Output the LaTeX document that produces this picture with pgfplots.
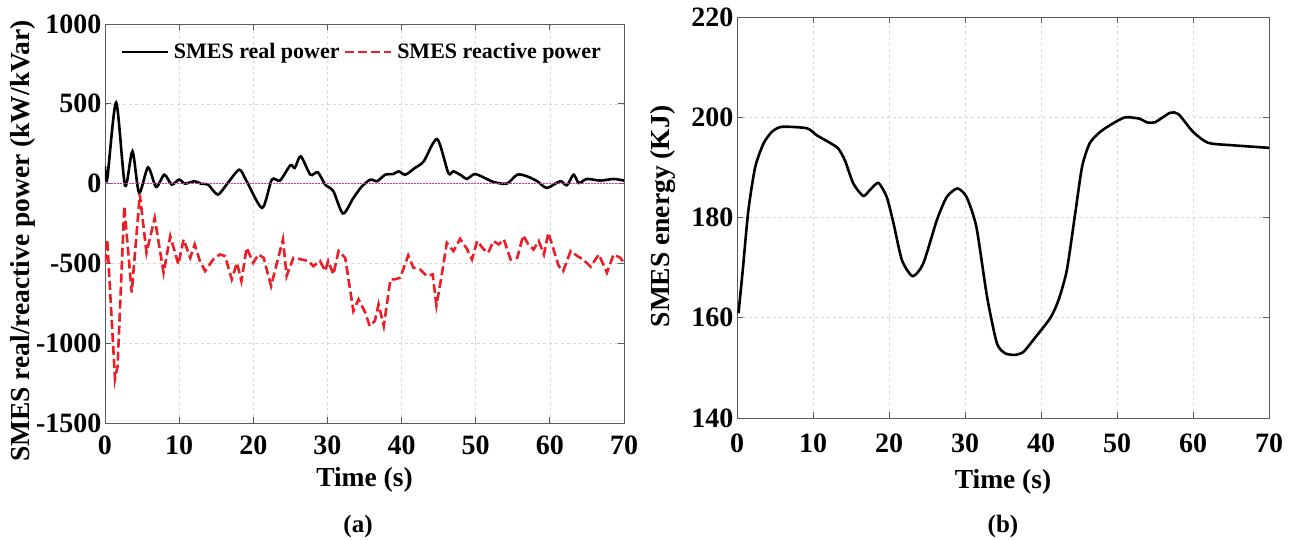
\documentclass[border=0pt]{standalone}
\usepackage{fontspec}
\setmainfont{Liberation Serif}
\usepackage{pgfplots}
\pgfplotsset{compat=1.18}
\definecolor{smesred}{RGB}{235,30,40}
\definecolor{refmag}{RGB}{200,50,200}
\definecolor{gridgray}{RGB}{215,215,215}
\definecolor{framegray}{RGB}{90,90,90}
\newcommand{\tf}{\fontsize{28}{28}\selectfont\bfseries}
\newcommand{\labfont}{\fontsize{27.5}{28}\selectfont\bfseries}
\begin{document}
\begin{tikzpicture}
\path[use as bounding box] (0pt,0pt) rectangle (1294pt,-539pt);
\pgfplotsset{
  myaxis/.style={
    scale only axis,
    xmin=0, xmax=70,
    xtick={0,10,...,70},
    xticklabels={0,10,20,30,40,50,60,70},
    grid=major,
    major grid style={dashed, gridgray, line width=0.6pt},
    axis line style={framegray, line width=0.9pt},
    tick style={framegray, line width=0.8pt},
    major tick length=6pt,
    tick label style={font=\tf},
    yticklabel shift=0pt,
    xlabel={Time (s)},
    clip=true,
  }
}
% ---------- (a) ----------
\begin{axis}[myaxis,
  at={(105pt,-423pt)}, anchor=south west,
  width=519pt, height=399pt,
  ymin=-1500, ymax=1000,
  ytick={-1500,-1000,-500,0,500,1000},
  yticklabels={-1500,-1000,-500,0,500,1000},
  xticklabel shift=9pt,
  ylabel={SMES real/reactive power (kW/kVar)},
  every axis y label/.style={at={(axis description cs:-0.158,0.456)}, rotate=90, anchor=center, font=\labfont},
  every axis x label/.style={at={(axis description cs:0.5,-0.143)}, anchor=center, font=\labfont},
  legend style={at={(axis description cs:0.029,0.93)}, anchor=west, draw=none, fill=none,
    font=\fontsize{22}{22}\selectfont\bfseries, legend columns=2,
    /tikz/every odd column/.append style={column sep=3pt},
    /tikz/every even column/.append style={column sep=2pt},
    legend cell align=left, inner sep=0pt},
  legend image code/.code={\draw[#1] (0pt,0pt) -- (46pt,0pt);},
]
\addplot[black, line width=2.6pt, smooth, tension=0.45] coordinates {
(0,108)(0.3,29)(1.5,508)(2.7,-12)(3.7,202)(4.6,-58)(5.8,102)(6.9,-21)(8.0,56)(9.0,-6)
(10,25)(10.8,0)(12.1,15)(13.0,-2)(13.9,-6)(15.2,-69)(16.4,-6)(18.1,87)(19.1,15)(21.2,-152)
(22.5,25)(23.6,19)(25.0,115)(25.6,98)(26.4,171)(27.7,56)(28.7,71)(29.7,-6)(30.8,-48)(32.1,-187)
(33.5,-90)(34.6,-20)(35.8,25)(36.7,15)(37.8,56)(38.9,60)(39.6,77)(40.5,56)(41.8,98)(43.0,140)
(44.8,279)(46.3,67)(47.0,77)(48.1,50)(48.8,29)(49.9,60)(51.5,29)(52.4,10)(54.2,0)(55.6,56)
(56.9,46)(58.3,15)(59.6,-27)(61.4,15)(62.3,-10)(63.2,56)(63.9,4)(65.0,29)(66.8,19)(68.6,29)(70,19)
};
\addlegendentry{SMES real power}
\addplot[smesred, line width=2.6pt, dash pattern=on 9pt off 4pt] coordinates {
(0,-496)(0.3,-350)(1.35,-1225)(1.7,-1142)(2.6,-142)(3.6,-683)(4.7,-69)(5.6,-433)(6.7,-215)(7.9,-558)
(8.8,-329)(9.9,-506)(10.6,-350)(11.5,-465)(12.1,-381)(12.8,-485)(13.5,-548)(14.6,-475)(15.5,-444)(16.2,-454)
(17.1,-600)(17.8,-496)(18.4,-610)(19.1,-402)(20.0,-496)(20.7,-444)(21.4,-465)(22.4,-642)(23.2,-496)(24.0,-350)
(24.5,-579)(25.4,-465)(26.5,-475)(27.4,-485)(28.1,-517)(29.0,-485)(29.7,-548)(30.1,-485)(30.8,-569)(31.5,-423)
(32.4,-465)(33.5,-798)(34.2,-725)(35.1,-808)(35.7,-892)(36.4,-860)(36.9,-756)(37.6,-892)(38.5,-600)(39.1,-600)
(39.8,-590)(40.9,-450)(41.6,-527)(42.5,-538)(43.4,-579)(44.2,-569)(44.7,-763)(45.4,-579)(46.1,-371)(47.0,-423)
(47.9,-346)(48.8,-408)(49.5,-475)(50.2,-360)(51.1,-413)(51.7,-433)(52.4,-360)(53.1,-381)(53.8,-350)(54.7,-475)
(55.6,-465)(56.4,-325)(57.1,-381)(57.8,-413)(58.5,-360)(59.2,-444)(59.8,-308)(60.5,-413)(61.2,-517)(61.8,-548)
(62.8,-423)(63.7,-454)(64.5,-475)(65.5,-521)(66.6,-444)(67.7,-558)(68.6,-444)(69.5,-465)(70,-496)
};
\addlegendentry{SMES reactive power}
\addplot[refmag, line width=1pt, dash pattern=on 2pt off 1pt, forget plot] coordinates {(0,0)(70,0)};
\end{axis}
% ---------- (b) ----------
\begin{axis}[myaxis,
  at={(737pt,-418pt)}, anchor=south west,
  width=532pt, height=401pt,
  ymin=140, ymax=220,
  ytick={140,160,180,200,220},
  yticklabels={140,160,180,200,220},
  xticklabel shift=12pt,
  ylabel={SMES energy (KJ)},
  every axis y label/.style={at={(axis description cs:-0.139,0.5025)}, rotate=90, anchor=center, font=\labfont},
  every axis x label/.style={at={(axis description cs:0.5,-0.16)}, anchor=center, font=\labfont},
]
\addplot[black, line width=2.6pt, smooth, tension=0.4] coordinates {
(0.2,160.9)(0.8,170.2)(1.5,181.5)(2.4,190.1)(3.5,194.8)(4.6,197.1)(5.9,198.1)(9.2,197.8)(10.5,196.4)(12.0,195.1)
(13.3,193.8)(14.2,191.4)(15.3,186.8)(16.6,184.3)(17.5,185.5)(18.6,186.9)(19.7,184.1)(20.6,178.8)(21.7,171.5)(23.1,168.3)
(24.5,170.8)(26.3,179.5)(27.6,184.1)(29.0,185.8)(30.2,184.1)(31.5,178.1)(32.9,164.2)(34.2,154.9)(35.3,152.9)(36.6,152.6)
(37.7,153.2)(39.0,155.6)(41.2,159.9)(42.3,163.5)(43.4,169.5)(44.5,180.8)(45.4,190.1)(46.4,194.8)(47.8,197.1)(49.5,198.8)
(51.1,200.0)(53.0,199.7)(53.9,199.0)(55.0,199.0)(57.0,200.9)(58.1,200.6)(60.0,197.1)(62.0,194.9)(65.3,194.4)(70,193.9)
};
\end{axis}
\node[font=\fontsize{25}{25}\selectfont\bfseries] at (358pt,-526pt) {(a)};
\node[font=\fontsize{25}{25}\selectfont\bfseries] at (1003pt,-526pt) {(b)};
\end{tikzpicture}
\end{document}
